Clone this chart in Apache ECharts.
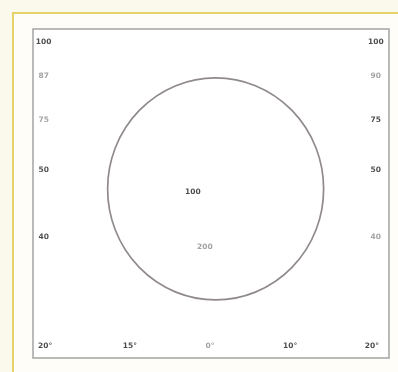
<!DOCTYPE html>
<html>
<head>
<meta charset="utf-8">
<script src="https://cdn.jsdelivr.net/npm/echarts@6/dist/echarts.min.js"></script>
<style>
  html, body { margin: 0; padding: 0; background: #fbf8ec; }
  #chart { width: 398px; height: 372px; }
</style>
</head>
<body>
<div id="chart"></div>
<script>
// Scale marks down the left and right edges (value on a 0-100 vertical scale)
const sideLevels = [96, 85.7, 72.3, 57.1, 36.8];
const leftTicks  = ['100', '87', '75', '50', '40'];
const rightTicks = ['100', '90', '75', '50', '40'];

// Scale marks along the bottom edge (value on a 0-100 horizontal scale)
const bottomLevels = [3.4, 27.2, 49.7, 72.2, 95.2];
const bottomTicks  = ['20°', '15°', '0°', '10°', '20°'];

// Readings inside the ring
const centerX = [44.9, 48.3];
const centerY = [50.5, 33.7];
const centerTicks = ['100', '200'];

// The ring itself: centre point
const ringCentre = [51.3, 51.4];

const rowY = 3.6;      // baseline of the bottom row
const leftX = 3.0;
const rightX = 96.3;

const dark = '#1e1e1e';
const light = '#8c8c8c';
const lightSet = new Set(['L1', 'L2', 'R1', 'R4', 'B2', 'C1']);

function pts(xs, ys, texts, tag) {
  return texts.map((t, i) => ({
    value: [xs[i], ys[i]],
    name: t,
    label: { color: lightSet.has(tag + i) ? light : dark }
  }));
}

const leftPts   = pts(sideLevels.map(() => leftX), sideLevels, leftTicks, 'L');
const rightPts  = pts(sideLevels.map(() => rightX), sideLevels, rightTicks, 'R');
const bottomPts = pts(bottomLevels, bottomLevels.map(() => rowY), bottomTicks, 'B');
const centrePts = pts(centerX, centerY, centerTicks, 'C');

const chart = echarts.init(document.getElementById('chart'), null, { renderer: 'canvas' });

const textLabel = {
  show: true,
  position: 'inside',
  formatter: p => p.name,
  fontFamily: 'DejaVu Sans',
  fontSize: 7.5,
  fontWeight: 'bold'
};

chart.setOption({
  backgroundColor: '#fbf8ec',
  animation: false,
  graphic: [
    {
      type: 'rect',
      shape: { x: 13, y: 13, width: 400, height: 400 },
      style: { fill: '#fefdf8', stroke: '#e3d36a', lineWidth: 2 },
      z: -10
    }
  ],
  grid: {
    show: true,
    left: 33, right: 9, top: 29, bottom: 14,
    backgroundColor: '#ffffff',
    borderColor: '#a4a4a4',
    borderWidth: 1.5
  },
  xAxis: { type: 'value', min: 0, max: 100, show: false },
  yAxis: { type: 'value', min: 0, max: 100, show: false },
  series: [
    {
      type: 'scatter',
      data: [ringCentre],
      symbol: 'circle',
      symbolSize: [216, 222],
      itemStyle: { color: 'rgba(0,0,0,0)', borderColor: '#736a6f', borderWidth: 1.7 },
      silent: true,
      z: 2
    },
    {
      type: 'scatter',
      data: [].concat(leftPts, rightPts, bottomPts, centrePts),
      symbolSize: 0,
      label: textLabel,
      silent: true,
      z: 3
    }
  ]
});
</script>
</body>
</html>
